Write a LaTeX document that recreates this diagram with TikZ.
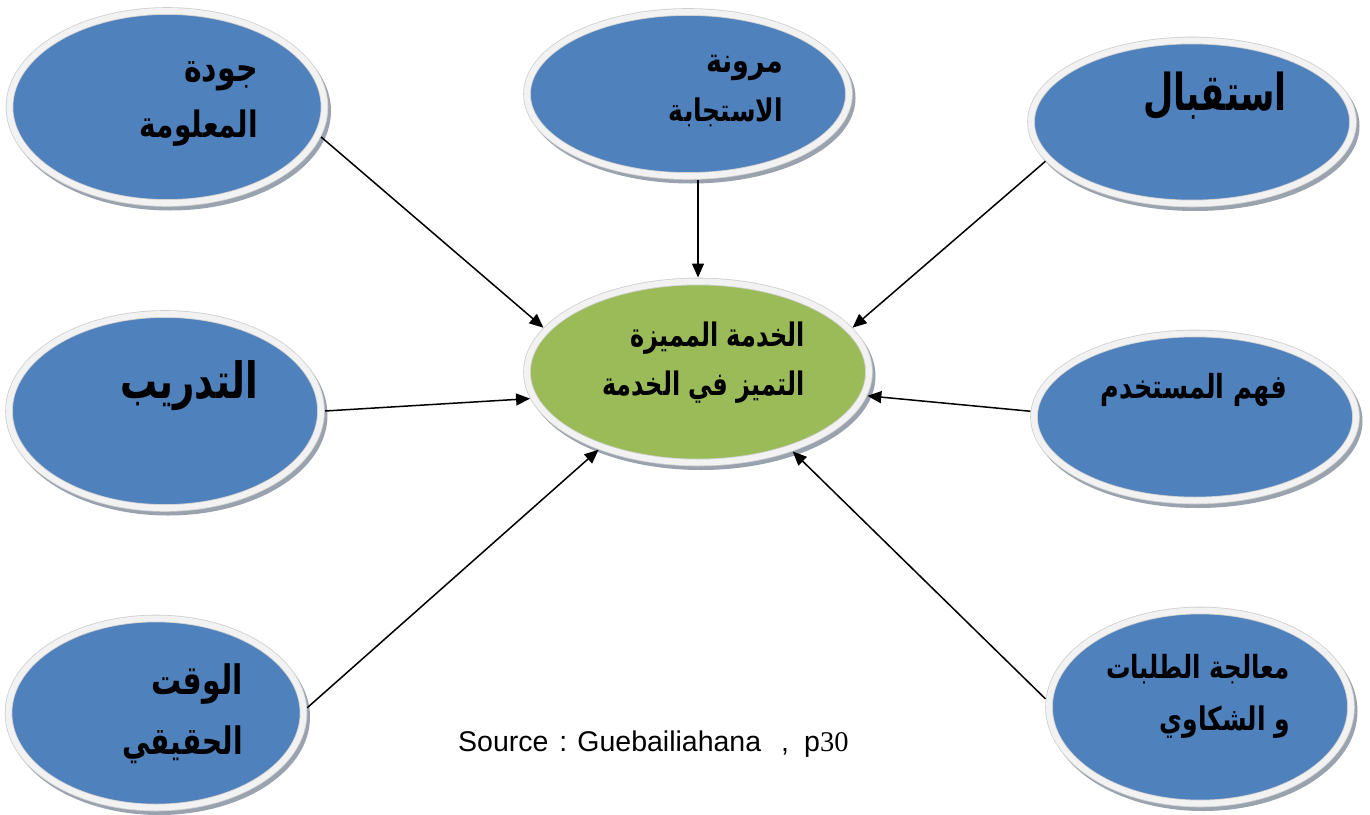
\documentclass[tikz,border=0pt]{standalone}
\usepackage{fontspec}
\usepackage{graphicx}
\setmainfont{Liberation Sans}
\newfontfamily\arabicfont[Script=Arabic]{DejaVu Sans}
\newfontfamily\seriffont{Liberation Serif}
\TeXXeTstate=1
\usetikzlibrary{shapes.geometric,arrows.meta}

\definecolor{bubbleblue}{HTML}{4F81BD}
\definecolor{bubblegreen}{HTML}{9BBB59}
\definecolor{ringwhite}{HTML}{F2F2F2}
\definecolor{ringedge}{HTML}{CFCFCF}
\definecolor{shadowgray}{HTML}{9AA2AE}

% one line of bold Arabic, size #1, stretched upright by #2
\newcommand{\arline}[3]{{\arabicfont\bfseries\fontsize{#1}{#1}\selectfont\scalebox{1}[#2]{#3}}}

\tikzset{
  bubble/.style={ellipse, inner sep=0pt, outer sep=4pt, fill=#1,
    draw=ringedge, double=ringwhite, double distance=6pt, line width=0.8pt,
    preaction={fill=shadowgray, draw=shadowgray, line width=7pt,
      transform canvas={xshift=3pt,yshift=-4pt}}},
  label/.style={inner sep=0pt, anchor=east},
  link/.style={draw=black, line width=1.5pt, -{Triangle[length=14pt,width=12pt]}}
}

\begin{document}
\begin{tikzpicture}[x=1pt, y=-1pt]
\useasboundingbox (0,0) rectangle (1370,814);

% outer bubbles
\node[bubble=bubbleblue, minimum width=315pt, minimum height=192pt] (quality) at (167,107) {};
\node[bubble=bubbleblue, minimum width=322pt, minimum height=164pt] (flex) at (688,94) {};
\node[bubble=bubbleblue, minimum width=322pt, minimum height=163pt] (recept) at (1192,122) {};
\node[bubble=bubbleblue, minimum width=312pt, minimum height=194pt] (training) at (165,411) {};
\node[bubble=bubbleblue, minimum width=322pt, minimum height=167pt] (user) at (1195,417) {};
\node[bubble=bubbleblue, minimum width=295pt, minimum height=189pt] (realtime) at (156,713) {};
\node[bubble=bubbleblue, minimum width=302pt, minimum height=193pt] (requests) at (1200,707) {};
% central bubble
\node[bubble=bubblegreen, minimum width=342pt, minimum height=181pt] (core) at (698,372) {};

% labels
\node[label] (tqualityA) at (258,76) {\arline{30}{1.3}{\beginR جودة\endR}};
\node[label] (tqualityB) at (258,128) {\arline{28}{1.3}{\beginR المعلومة\endR}};
\node[label] (tflexA) at (783,68) {\arline{27}{1.25}{\beginR مرونة\endR}};
\node[label] (tflexB) at (783,112) {\arline{25}{1.25}{\beginR الاستجابة\endR}};
\node[label] (trecept) at (1287,96) {\arline{35}{1.45}{\beginR استقبال\endR}};
\node[label] (ttraining) at (258,386) {\arline{37}{1.35}{\beginR التدريب\endR}};
\node[label] (tuser) at (1287,390) {\arline{25.5}{1.3}{\beginR فهم المستخدم\endR}};
\node[label] (trealtimeA) at (243,684) {\arline{30}{1.35}{\beginR الوقت\endR}};
\node[label] (trealtimeB) at (243,745) {\arline{28}{1.35}{\beginR الحقيقي\endR}};
\node[label] (trequestsA) at (1290,669) {\arline{24.5}{1.3}{\beginR معالجة الطلبات\endR}};
\node[label] (trequestsB) at (1290,722) {\arline{25}{1.3}{\beginR و الشكاوي\endR}};
\node[label] (tcoreA) at (805,338) {\arline{24}{1.35}{\beginR الخدمة المميزة\endR}};
\node[label] (tcoreB) at (805,387) {\arline{24}{1.35}{\beginR التميز في الخدمة\endR}};

% source note
\node[inner sep=0pt, anchor=base west, font=\fontsize{28.5}{32}\selectfont] (source) at (458,751)
  {Source\hspace{11pt}:\hspace{10pt}Guebailiahana\hspace{20pt},\hspace{15pt}p{\seriffont 30}};

% connectors into the central bubble
\draw[link] (quality.-11) -- (core.164.6);
\draw[link] (flex.south -| core.north) -- (core.north);
\draw[link] (recept.-165.5) -- (core.16.3);
\draw[link] (training.east) -- (core.189.2);
\draw[link] (user.178) -- (core.-8.3);
\draw[link] (realtime.2.8) -- (core.-142.2);
\draw[link] (requests.177) -- (core.-40);
\end{tikzpicture}
\end{document}
